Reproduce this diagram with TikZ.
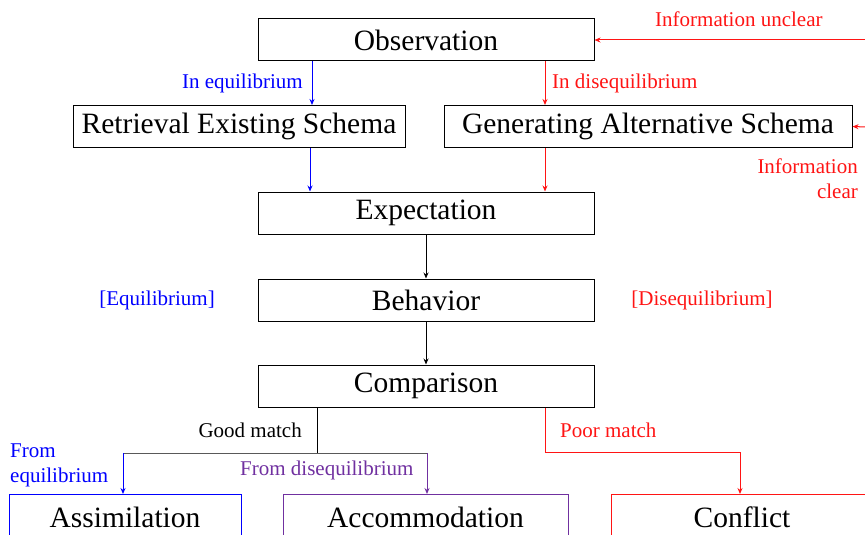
\documentclass[tikz,border=0pt]{standalone}
\usepackage{fontspec}
\setmainfont{Liberation Serif}
\usetikzlibrary{arrows.meta}
\definecolor{myred}{RGB}{255,20,20}
\definecolor{myblue}{RGB}{0,0,255}
\definecolor{mypurple}{RGB}{112,48,160}
\begin{document}
\begin{tikzpicture}[x=1pt,y=-1pt,
  box/.style={draw, line width=1pt, minimum height=42pt, inner sep=0pt, font=\fontsize{29.5}{32}\selectfont},
  bbox/.style={draw, line width=1pt, anchor=north, inner xsep=0pt, inner ysep=0pt, text height=33pt, text depth=30pt, font=\fontsize{29.5}{32}\selectfont},
  lbl/.style={font=\fontsize{21}{25}\selectfont, inner sep=0pt},
  arr/.style={-{Stealth[length=6pt,width=5pt]}, line width=1pt}]
\useasboundingbox (0,0) rectangle (865,535);
\clip (0,0) rectangle (865,535);
% boxes
\node[box, minimum width=336pt] (obs) at (426,40) {Observation};
\node[box, minimum width=332pt] (ret) at (239,126.5) {Retrieval Existing Schema};
\node[box, minimum width=408pt] (gen) at (648,126.5) {Generating Alternative Schema};
\node[box, minimum width=336pt] (exp) at (426,213) {Expectation};
\node[box, minimum width=336pt] (beh) at (426,300) {Behavior};
\node[box, minimum width=336pt] (cmp) at (426,386) {Comparison};
\node[bbox, myblue, text=black, minimum width=232pt] (asm) at (125,494) {Assimilation};
\node[bbox, mypurple, text=black, minimum width=285pt] (acc) at (425.5,494) {Accommodation};
\node[bbox, myred, text=black, minimum width=262pt] (con) at (742,494) {Conflict};
% helper coordinates
\coordinate (xb) at (312,0);
\coordinate (xr) at (545,0);
\coordinate (xb2) at (310,0);
\coordinate (eU) at (866,40);
\coordinate (eC) at (866,127);
\coordinate (jG) at (317,453);
\coordinate (jL) at (123,453);
\coordinate (jR) at (427,453);
\coordinate (jP) at (545,452);
\coordinate (jC) at (740,452);
% connectors
\draw[arr, myblue] (obs.south -| xb) -- (ret.north -| xb);
\draw[arr, myred] (obs.south -| xr) -- (gen.north -| xr);
\draw[arr, myblue] (ret.south -| xb2) -- (exp.north -| xb2);
\draw[arr, myred] (gen.south -| xr) -- (exp.north -| xr);
\draw[arr] (exp) -- (beh);
\draw[arr] (beh) -- (cmp);
\draw[arr, myred] (eU) -- (obs.east);
\draw[arr, myred] (eC) -- (gen.east);
\draw[line width=1pt] (cmp.south -| jG) -- (jG);
\draw[line width=1pt, black!65] (jL) -- (jR);
\draw[arr, myblue] (jL) -- (asm.north -| jL);
\draw[arr, mypurple] (jR) -- (acc.north -| jR);
\draw[arr, myred] (cmp.south -| jP) -- (jP) -- (jC) -- (con.north -| jC);
% labels
\node[lbl, myblue, anchor=east] (l1) at (303,83) {In equilibrium};
\node[lbl, myred, anchor=west] (l2) at (552,83) {In disequilibrium};
\node[lbl, myred, anchor=west] (l3) at (655,19) {Information unclear};
\node[lbl, myred, anchor=east, align=right] (l4) at (858,179) {Information\\clear};
\node[lbl, myblue] (l5) at (157,300) {[Equilibrium]};
\node[lbl, myred] (l6) at (702,300) {[Disequilibrium]};
\node[lbl, anchor=east] (l7) at (302,430) {Good match};
\node[lbl, myred, anchor=west] (l8) at (560,430) {Poor match};
\node[lbl, myblue, anchor=west, align=left] (l9) at (10,465) {From\\equilibrium};
\node[lbl, mypurple, anchor=west] (l10) at (240,470) {From disequilibrium};
\end{tikzpicture}
\end{document}
